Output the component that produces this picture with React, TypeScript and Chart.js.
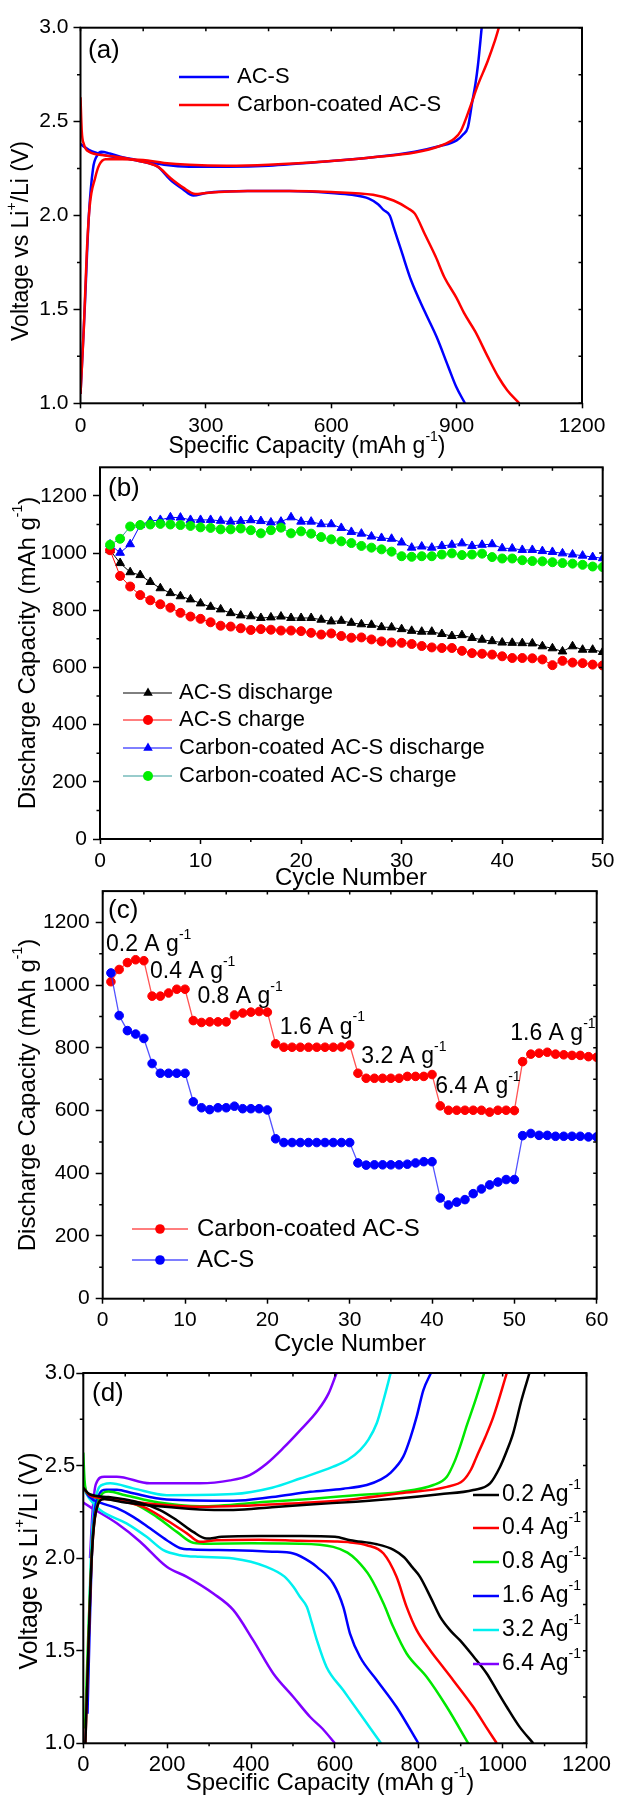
import React, { useEffect, useRef } from "react";
import { Chart, registerables } from "chart.js";

Chart.register(...registerables);

const FONT = '"Liberation Sans", Arial, Helvetica, sans-serif';
const W = 617;
const XH = 40;

type Pt = [number, number];
type Seg = { t: string; sup?: boolean };

// ---------------- Panel (a): voltage profiles ----------------
const A_X_MINOR = [150, 450, 750, 1050];
const V_Y_MINOR = [1.25, 1.75, 2.25, 2.75];
const A_ACS_DIS: Pt[] = [[0, 2.38], [20, 2.35], [60, 2.32], [120, 2.30], [160, 2.28], [185, 2.26], [215, 2.19], [245, 2.14], [270, 2.106], [300, 2.12], [400, 2.13], [500, 2.13], [600, 2.12], [650, 2.11], [690, 2.09], [712, 2.06], [725, 2.03], [740, 2.0], [749, 1.94], [768, 1.81], [791, 1.655], [824, 1.487], [852, 1.354], [880, 1.195], [899, 1.088], [920, 1.0]];
const A_ACS_CHG: Pt[] = [[0, 1.05], [10, 1.5], [20, 2.0], [30, 2.25], [40, 2.32], [50, 2.34], [70, 2.33], [100, 2.31], [150, 2.29], [200, 2.27], [260, 2.26], [350, 2.26], [450, 2.265], [600, 2.29], [700, 2.31], [800, 2.34], [860, 2.37], [900, 2.40], [915, 2.43], [927, 2.47], [937, 2.6], [945, 2.7], [951, 2.8], [960, 3.0]];
const A_CC_DIS: Pt[] = [[0, 2.63], [3, 2.45], [8, 2.38], [20, 2.34], [60, 2.32], [120, 2.30], [160, 2.28], [185, 2.26], [215, 2.20], [245, 2.15], [275, 2.115], [300, 2.12], [400, 2.13], [500, 2.13], [600, 2.125], [700, 2.11], [749, 2.08], [786, 2.035], [800, 2.01], [824, 1.90], [850, 1.78], [871, 1.67], [900, 1.56], [918, 1.48], [945, 1.38], [974, 1.25], [1000, 1.14], [1021, 1.07], [1050, 1.0]];
const A_CC_CHG: Pt[] = [[0, 1.05], [8, 1.4], [15, 1.8], [22, 2.05], [35, 2.2], [45, 2.27], [60, 2.30], [100, 2.30], [150, 2.295], [200, 2.28], [260, 2.27], [350, 2.265], [450, 2.27], [600, 2.29], [700, 2.31], [800, 2.335], [860, 2.37], [895, 2.41], [910, 2.45], [932, 2.575], [950, 2.69], [974, 2.82], [990, 2.92], [1001, 3.0]];

// ---------------- Panel (b): cycling ----------------
const B_X_MINOR = [5, 15, 25, 35, 45];
const CAP_Y_MINOR = [100, 300, 500, 700, 900, 1100];
const B_ACS_DIS = [1010, 965, 933, 923, 899, 877, 860, 849, 838, 824, 812, 803, 790, 782, 779, 773, 775, 778, 773, 773, 773, 767, 761, 763, 756, 751, 749, 741, 740, 734, 728, 725, 725, 717, 710, 713, 703, 697, 692, 687, 686, 685, 684, 674, 667, 656, 674, 662, 662, 654];
const B_ACS_CHG = [1010, 920, 883, 853, 835, 821, 809, 791, 778, 770, 758, 746, 743, 737, 731, 734, 732, 729, 729, 727, 721, 715, 719, 710, 704, 705, 698, 691, 687, 686, 682, 675, 670, 668, 668, 658, 650, 648, 645, 639, 633, 633, 632, 628, 608, 623, 617, 615, 610, 607];
const B_CC_DIS = [1030, 1001, 1031, 1098, 1112, 1116, 1125, 1124, 1116, 1116, 1116, 1113, 1110, 1112, 1115, 1112, 1107, 1110, 1125, 1110, 1110, 1101, 1101, 1088, 1074, 1068, 1058, 1053, 1050, 1037, 1019, 1023, 1019, 1025, 1029, 1034, 1025, 1029, 1031, 1017, 1016, 1011, 1011, 1007, 1004, 999, 995, 991, 986, 982];
const B_CC_CHG = [1029, 1050, 1093, 1098, 1100, 1102, 1100, 1098, 1095, 1090, 1088, 1083, 1083, 1086, 1080, 1069, 1080, 1089, 1069, 1076, 1068, 1056, 1048, 1041, 1035, 1025, 1019, 1013, 1005, 989, 987, 989, 989, 995, 999, 993, 995, 998, 986, 981, 981, 975, 972, 971, 968, 965, 963, 959, 953, 951];
const B_LABELS = ["AC-S discharge", "AC-S charge", "Carbon-coated AC-S discharge", "Carbon-coated AC-S charge"];

// ---------------- Panel (c): rate capability ----------------
const C_X_MINOR = [5, 15, 25, 35, 45, 55];
const C_CC = [1011, 1050, 1072, 1081, 1078, 965, 965, 975, 987, 987, 887, 881, 883, 883, 883, 905, 911, 914, 916, 914, 813, 802, 802, 802, 802, 802, 802, 802, 803, 809, 719, 703, 703, 703, 703, 703, 709, 709, 709, 715, 615, 601, 601, 601, 601, 601, 595, 601, 601, 600, 756, 780, 783, 786, 780, 778, 776, 776, 772, 770];
const C_ACS = [1039, 903, 855, 844, 830, 750, 719, 719, 719, 719, 628, 609, 603, 609, 609, 614, 606, 606, 606, 602, 510, 498, 498, 498, 498, 498, 498, 498, 498, 498, 433, 426, 427, 427, 427, 427, 429, 433, 437, 437, 321, 299, 308, 316, 335, 350, 363, 372, 380, 380, 520, 527, 521, 521, 518, 518, 518, 518, 516, 516];
const C_RATE_TEXT = ["0.2", "0.4", "0.8", "1.6", "3.2", "6.4", "1.6"];
const C_RATE_CYCLE = [0.4, 5.75, 11.5, 21.5, 31.4, 40.4, 49.5];
const C_RATE_CAP = [1128, 1042, 962, 866, 772, 677, 844];

// ---------------- Panel (d): rate voltage profiles ----------------
const D_X_MINOR = [100, 300, 500, 700, 900, 1100];
const D_RATES = ["0.2", "0.4", "0.8", "1.6", "3.2", "6.4"];
const D_COLORS = ["#000000", "#ff0000", "#00e800", "#0000ff", "#00f0f0", "#8000ff"];
const D_02_DIS: Pt[] = [[0, 2.38], [15, 2.345], [60, 2.33], [134, 2.30], [183, 2.26], [223, 2.205], [262, 2.142], [294, 2.106], [330, 2.115], [420, 2.12], [520, 2.12], [600, 2.115], [637, 2.097], [700, 2.075], [740, 2.045], [765, 2.005], [785, 1.95], [803, 1.899], [830, 1.78], [851, 1.683], [875, 1.61], [898, 1.557], [930, 1.47], [962, 1.377], [985, 1.29], [1010, 1.196], [1040, 1.09], [1073, 1.0]];
const D_02_CHG: Pt[] = [[5, 1.0], [12, 1.5], [20, 2.0], [30, 2.25], [50, 2.32], [100, 2.30], [180, 2.28], [278, 2.263], [358, 2.26], [450, 2.275], [541, 2.29], [650, 2.305], [755, 2.323], [850, 2.345], [930, 2.368], [970, 2.404], [994, 2.494], [1010, 2.58], [1025, 2.674], [1045, 2.854], [1064, 3.0]];
const D_04_DIS: Pt[] = [[0, 2.38], [15, 2.34], [60, 2.32], [143, 2.277], [199, 2.205], [247, 2.134], [278, 2.088], [318, 2.097], [420, 2.10], [517, 2.094], [600, 2.09], [637, 2.085], [676, 2.07], [716, 2.025], [747, 1.899], [771, 1.737], [795, 1.611], [827, 1.503], [855, 1.42], [882, 1.341], [930, 1.196], [960, 1.09], [986, 1.0]];
const D_04_CHG: Pt[] = [[5, 1.0], [12, 1.5], [20, 2.0], [30, 2.25], [50, 2.32], [100, 2.31], [180, 2.29], [278, 2.277], [400, 2.285], [541, 2.30], [650, 2.32], [755, 2.35], [867, 2.385], [906, 2.42], [925, 2.48], [938, 2.548], [958, 2.65], [978, 2.764], [1010, 3.0]];
const D_08_DIS: Pt[] = [[0, 2.57], [3, 2.42], [10, 2.35], [60, 2.32], [119, 2.296], [175, 2.223], [223, 2.142], [262, 2.083], [300, 2.078], [400, 2.08], [517, 2.078], [596, 2.061], [630, 2.03], [652, 1.989], [684, 1.899], [716, 1.755], [739, 1.629], [771, 1.485], [819, 1.358], [867, 1.196], [918, 1.0]];
const D_08_CHG: Pt[] = [[4, 1.08], [12, 1.6], [22, 2.1], [35, 2.3], [60, 2.36], [100, 2.34], [180, 2.30], [278, 2.28], [437, 2.304], [541, 2.32], [650, 2.34], [755, 2.358], [835, 2.395], [867, 2.44], [885, 2.52], [898, 2.60], [915, 2.72], [930, 2.818], [956, 3.0]];
const D_16_DIS: Pt[] = [[0, 2.44], [5, 2.37], [15, 2.33], [40, 2.30], [80, 2.27], [119, 2.223], [159, 2.161], [199, 2.097], [230, 2.055], [260, 2.047], [358, 2.043], [450, 2.035], [501, 2.025], [541, 1.98], [557, 1.953], [596, 1.863], [620, 1.737], [636, 1.593], [660, 1.466], [700, 1.341], [747, 1.196], [799, 1.0]];
const D_16_CHG: Pt[] = [[10, 1.16], [15, 1.6], [22, 2.1], [35, 2.33], [55, 2.37], [80, 2.37], [119, 2.35], [199, 2.317], [358, 2.31], [450, 2.33], [541, 2.358], [620, 2.375], [676, 2.395], [710, 2.425], [731, 2.458], [763, 2.548], [780, 2.65], [795, 2.764], [811, 2.908], [829, 3.0]];
const D_32_DIS: Pt[] = [[0, 2.38], [15, 2.32], [40, 2.26], [103, 2.188], [151, 2.115], [191, 2.043], [231, 2.016], [278, 2.007], [358, 1.998], [437, 1.953], [480, 1.90], [501, 1.845], [517, 1.79], [533, 1.737], [545, 1.65], [557, 1.557], [580, 1.412], [620, 1.286], [660, 1.16], [710, 1.0]];
const D_32_CHG: Pt[] = [[10, 1.27], [14, 1.7], [20, 2.1], [30, 2.33], [50, 2.40], [64, 2.404], [119, 2.377], [199, 2.34], [358, 2.346], [450, 2.38], [517, 2.43], [596, 2.494], [630, 2.53], [660, 2.584], [680, 2.64], [700, 2.73], [716, 2.854], [733, 3.0]];
const D_64_DIS: Pt[] = [[0, 2.30], [16, 2.277], [80, 2.188], [135, 2.09], [199, 1.953], [247, 1.899], [310, 1.809], [358, 1.719], [405, 1.557], [453, 1.377], [501, 1.25], [541, 1.142], [570, 1.08], [600, 1.0]];
const D_64_CHG: Pt[] = [[16, 2.0], [22, 2.25], [30, 2.40], [50, 2.44], [80, 2.44], [159, 2.404], [278, 2.404], [350, 2.42], [397, 2.449], [437, 2.51], [477, 2.595], [517, 2.69], [560, 2.80], [585, 2.89], [604, 3.0]];
const D_CURVES: [Pt[], Pt[]][] = [[D_02_DIS, D_02_CHG], [D_04_DIS, D_04_CHG], [D_08_DIS, D_08_CHG], [D_16_DIS, D_16_CHG], [D_32_DIS, D_32_CHG], [D_64_DIS, D_64_CHG]];

// ---------------- helpers ----------------
const sup = (t: string): Seg => ({ t, sup: true });
const GINV: Seg[] = [{ t: "Specific Capacity (mAh g" }, sup("-1"), { t: ")" }];
const DISCAP: Seg[] = [{ t: "Discharge Capacity (mAh g" }, sup("-1"), { t: ")" }];
const VOLT: Seg[] = [{ t: "Voltage vs Li" }, sup("+"), { t: "/Li (V)" }];

function segWidth(ctx: CanvasRenderingContext2D, segs: Seg[], size: number) {
  let w = 0;
  for (const s of segs) {
    ctx.font = `${s.sup ? Math.round(size * 0.6) : size}px ${FONT}`;
    w += ctx.measureText(s.t).width;
  }
  return w;
}
function drawSegs(ctx: CanvasRenderingContext2D, segs: Seg[], x: number, y: number, size: number, center: boolean) {
  const w = segWidth(ctx, segs, size);
  let cx = center ? x - w / 2 : x;
  ctx.textAlign = "left";
  ctx.textBaseline = "middle";
  for (const s of segs) {
    const fs = s.sup ? Math.round(size * 0.6) : size;
    ctx.font = `${fs}px ${FONT}`;
    ctx.fillText(s.t, cx, s.sup ? y - size * 0.42 : y);
    cx += ctx.measureText(s.t).width;
  }
}
function drawMarker(ctx: CanvasRenderingContext2D, style: string, x: number, y: number, r: number, color: string) {
  ctx.fillStyle = color;
  ctx.beginPath();
  if (style === "triangle") {
    let rad = 0;
    const R = r + 0.5;
    ctx.moveTo(x + Math.sin(rad) * R, y - Math.cos(rad) * R);
    rad += (2 * Math.PI) / 3;
    ctx.lineTo(x + Math.sin(rad) * R, y - Math.cos(rad) * R);
    rad += (2 * Math.PI) / 3;
    ctx.lineTo(x + Math.sin(rad) * R, y - Math.cos(rad) * R);
    ctx.closePath();
  } else {
    ctx.arc(x, y, r + 0.5, 0, Math.PI * 2);
  }
  ctx.fill();
}

interface LegendItem { ds: number; y: number; x1: number; x2: number; mx?: number; tx: number; text: Seg[]; size: number; lw: number }
interface Note { text: Seg[]; x: number; y: number; size: number }
interface Deco {
  top: number;
  xMinor: number[];
  yMinor: number[];
  panel: string; panelX: number; panelY: number; panelSize: number;
  xTitle: Seg[]; xTitleX: number; xTitleY: number; xTitleSize: number;
  yTitle: Seg[]; yTitleX: number; yTitleY: number; yTitleSize: number;
  legend: LegendItem[];
  notes: Note[];
}

function makeDeco(o: Deco) {
  return {
    id: "deco",
    afterDraw(chart: any) {
      const ctx: CanvasRenderingContext2D = chart.ctx;
      const a = chart.chartArea;
      const xs = chart.scales.x;
      const ys = chart.scales.y;
      const T = o.top;
      ctx.save();
      ctx.strokeStyle = "#000";
      ctx.fillStyle = "#000";
      // frame
      ctx.lineWidth = 2;
      ctx.strokeRect(a.left, a.top, a.right - a.left, a.bottom - a.top);
      // minor ticks & inward ticks
      ctx.lineWidth = 1.5;
      ctx.beginPath();
      for (const v of o.xMinor) {
        const p = xs.getPixelForValue(v);
        ctx.moveTo(p, a.bottom);
        ctx.lineTo(p, a.bottom + 3);
      }
      for (const v of o.yMinor) {
        const p = ys.getPixelForValue(v);
        ctx.moveTo(a.left, p);
        ctx.lineTo(a.left - 3.5, p);
      }
      const xAll = xs.ticks.map((t: any) => t.value).concat(o.xMinor);
      for (const v of xAll) {
        const p = xs.getPixelForValue(v);
        ctx.moveTo(p, a.top);
        ctx.lineTo(p, a.top + 3.5);
      }
      const yAll = ys.ticks.map((t: any) => t.value).concat(o.yMinor);
      for (const v of yAll) {
        const p = ys.getPixelForValue(v);
        ctx.moveTo(a.right, p);
        ctx.lineTo(a.right - 3.5, p);
      }
      ctx.stroke();
      ctx.fillStyle = "#000";
      // panel label
      drawSegs(ctx, [{ t: o.panel }], o.panelX, o.panelY - T, o.panelSize, false);
      // axis titles
      drawSegs(ctx, o.xTitle, o.xTitleX, o.xTitleY - T, o.xTitleSize, true);
      ctx.save();
      ctx.translate(o.yTitleX, o.yTitleY - T);
      ctx.rotate(-Math.PI / 2);
      ctx.fillStyle = "#000";
      drawSegs(ctx, o.yTitle, 0, 0, o.yTitleSize, true);
      ctx.restore();
      // legend
      for (const it of o.legend) {
        const d = chart.data.datasets[it.ds];
        const y = it.y - T;
        ctx.strokeStyle = d.borderColor;
        ctx.lineWidth = it.lw;
        ctx.beginPath();
        ctx.moveTo(it.x1, y);
        ctx.lineTo(it.x2, y);
        ctx.stroke();
        if (it.mx !== undefined) drawMarker(ctx, d.pointStyle, it.mx, y, d.pointRadius, d.pointBackgroundColor);
        ctx.fillStyle = "#000";
        drawSegs(ctx, it.text, it.tx, y, it.size, false);
      }
      // annotations (data coordinates)
      for (const n of o.notes) {
        ctx.fillStyle = "#000";
        drawSegs(ctx, n.text, xs.getPixelForValue(n.x), ys.getPixelForValue(n.y), n.size, false);
      }
      ctx.restore();
    },
  };
}

interface AxisSpec {
  L: number; xMin: number; xMax: number; xStep: number;
  yMin: number; yMax: number; yStep: number; yKeep: number;
  yFmt: (v: number) => string; tickSize: number; xPad: number; yPad: number;
}
function makeScales(p: AxisSpec) {
  const font = { family: FONT, size: p.tickSize };
  return {
    x: {
      type: "linear", position: "bottom", min: p.xMin, max: p.xMax,
      ticks: { stepSize: p.xStep, autoSkip: false, maxRotation: 0, minRotation: 0, padding: p.xPad, color: "#000", font, callback: (v: any) => String(v) },
      grid: { display: true, drawOnChartArea: false, drawTicks: true, tickLength: 5, tickWidth: 1.5, tickColor: "#000" },
      border: { display: false },
      afterFit: (s: any) => { s.height = XH; s.paddingLeft = 0; s.paddingRight = 0; },
    },
    y: {
      type: "linear", position: "left", min: p.yMin, max: p.yMax,
      ticks: { stepSize: p.yStep, autoSkip: false, padding: p.yPad, color: "#000", font, callback: (v: any) => p.yFmt(Number(v)) },
      grid: { display: true, drawOnChartArea: false, drawTicks: true, tickLength: 7, tickWidth: 1.5, tickColor: "#000" },
      border: { display: false },
      afterBuildTicks: (s: any) => { s.ticks = s.ticks.filter((t: any) => t.value <= p.yKeep + 1e-9); },
      afterFit: (s: any) => { s.width = p.L; s.paddingTop = 0; s.paddingBottom = 0; },
    },
  };
}
function baseOptions(top: number, H: number, R: number, Tp: number, B: number, scales: any) {
  return {
    responsive: false,
    maintainAspectRatio: false,
    animation: false,
    devicePixelRatio: 1,
    events: [],
    layout: { padding: { left: 0, right: W - R, top: Tp - top, bottom: H - (B - top) - XH } },
    plugins: { legend: { display: false }, tooltip: { enabled: false }, title: { display: false } },
    scales,
  };
}
const toXY = (pts: Pt[]) => pts.map(([x, y]) => ({ x, y }));
const byCycle = (vals: number[]) => vals.map((y, i) => ({ x: i + 1, y }));
function curve(pts: Pt[], color: string, order: number) {
  return { data: toXY(pts), showLine: true, borderColor: color, backgroundColor: color, borderWidth: 2.5, pointRadius: 0, cubicInterpolationMode: "monotone", fill: false, order };
}

// ---------------- chart configs ----------------
function cfgA() {
  const top = 0, H = 470;
  return {
    type: "scatter",
    data: {
      datasets: [
        curve(A_ACS_DIS, "#0000ff", 2), curve(A_ACS_CHG, "#0000ff", 2),
        curve(A_CC_DIS, "#ff0000", 1), curve(A_CC_CHG, "#ff0000", 1),
      ],
    },
    options: baseOptions(top, H, 582, 27.7, 403.3, makeScales({ L: 80.5, xMin: 0, xMax: 1200, xStep: 300, yMin: 1, yMax: 3, yStep: 0.5, yKeep: 3, yFmt: (v) => v.toFixed(1), tickSize: 21, xPad: 5, yPad: 5 })),
    plugins: [makeDeco({
      top, xMinor: A_X_MINOR, yMinor: V_Y_MINOR,
      panel: "(a)", panelX: 88, panelY: 51, panelSize: 26,
      xTitle: GINV, xTitleX: 307, xTitleY: 447, xTitleSize: 23,
      yTitle: VOLT, yTitleX: 22, yTitleY: 241, yTitleSize: 23,
      legend: [
        { ds: 0, y: 77, x1: 179, x2: 229, tx: 237, text: [{ t: "AC-S" }], size: 22, lw: 2.5 },
        { ds: 2, y: 105, x1: 179, x2: 229, tx: 237, text: [{ t: "Carbon-coated AC-S" }], size: 22, lw: 2.5 },
      ],
      notes: [],
    })],
  };
}

function markers(vals: number[], color: string, lineColor: string, style: string, r: number, order: number, lw: number) {
  return {
    data: byCycle(vals), showLine: true, borderColor: lineColor, borderWidth: lw,
    pointStyle: style, pointRadius: r, pointBackgroundColor: color, pointBorderColor: color, pointBorderWidth: 1,
    backgroundColor: color, order, tension: 0,
  };
}

function cfgB() {
  const top = 440, H = 470;
  const dsets = [
    markers(B_ACS_DIS, "#000000", "#000000", "triangle", 5, 4, 1),
    markers(B_ACS_CHG, "#ff0000", "#ff0000", "circle", 4.5, 3, 1),
    markers(B_CC_DIS, "#0000ff", "#0000ff", "triangle", 5, 2, 1),
    markers(B_CC_CHG, "#00ee00", "#339999", "circle", 4.5, 1, 1),
  ];
  const rows = [693, 720, 748, 776];
  return {
    type: "scatter",
    data: { datasets: dsets },
    options: baseOptions(top, H, 602.7, 467.3, 839, makeScales({ L: 100, xMin: 0, xMax: 50, xStep: 10, yMin: 0, yMax: 1300, yStep: 200, yKeep: 1200, yFmt: (v) => String(v), tickSize: 21, xPad: 5, yPad: 6 })),
    plugins: [makeDeco({
      top, xMinor: B_X_MINOR, yMinor: CAP_Y_MINOR,
      panel: "(b)", panelX: 108, panelY: 489, panelSize: 26,
      xTitle: [{ t: "Cycle Number" }], xTitleX: 351, xTitleY: 878, xTitleSize: 24,
      yTitle: DISCAP, yTitleX: 28, yTitleY: 653, yTitleSize: 24,
      legend: B_LABELS.map((lab, i) => ({ ds: i, y: rows[i], x1: 123, x2: 172, mx: 148, tx: 179, text: [{ t: lab }], size: 22, lw: 1 })),
      notes: [],
    })],
  };
}

function cfgC() {
  const top = 860, H = 500;
  const dsets = [
    markers(C_CC, "#ff0000", "rgba(255,40,40,0.8)", "circle", 4.3, 2, 1.3),
    markers(C_ACS, "#0000ff", "rgba(40,40,255,0.8)", "circle", 4.3, 1, 1.3),
  ];
  return {
    type: "scatter",
    data: { datasets: dsets },
    options: baseOptions(top, H, 596.7, 891.1, 1298.7, makeScales({ L: 102.7, xMin: 0, xMax: 60, xStep: 10, yMin: 0, yMax: 1300, yStep: 200, yKeep: 1200, yFmt: (v) => String(v), tickSize: 21, xPad: 4, yPad: 6 })),
    plugins: [makeDeco({
      top, xMinor: C_X_MINOR, yMinor: CAP_Y_MINOR,
      panel: "(c)", panelX: 108, panelY: 911, panelSize: 26,
      xTitle: [{ t: "Cycle Number" }], xTitleX: 350, xTitleY: 1344, xTitleSize: 24,
      yTitle: DISCAP, yTitleX: 28, yTitleY: 1095, yTitleSize: 24,
      legend: [
        { ds: 0, y: 1229, x1: 132, x2: 188, mx: 160, tx: 197, text: [{ t: "Carbon-coated AC-S" }], size: 24, lw: 1.5 },
        { ds: 1, y: 1260, x1: 132, x2: 188, mx: 160, tx: 197, text: [{ t: "AC-S" }], size: 24, lw: 1.5 },
      ],
      notes: C_RATE_TEXT.map((t, i) => ({ text: [{ t: `${t} A g` }, sup("-1")], x: C_RATE_CYCLE[i], y: C_RATE_CAP[i], size: 23 })),
    })],
  };
}

function cfgD() {
  const top = 1330, H = 468;
  const dsets: any[] = [];
  D_CURVES.forEach(([dis, chg], i) => {
    dsets.push(curve(dis, D_COLORS[i], i + 1));
    dsets.push(curve(chg, D_COLORS[i], i + 1));
  });
  const rows = [1495, 1528, 1562, 1596, 1630, 1664];
  return {
    type: "scatter",
    data: { datasets: dsets },
    options: baseOptions(top, H, 586.5, 1373, 1743.3, makeScales({ L: 83.3, xMin: 0, xMax: 1200, xStep: 200, yMin: 1, yMax: 3, yStep: 0.5, yKeep: 3, yFmt: (v) => v.toFixed(1), tickSize: 22, xPad: 3, yPad: 1 })),
    plugins: [makeDeco({
      top, xMinor: D_X_MINOR, yMinor: V_Y_MINOR,
      panel: "(d)", panelX: 92, panelY: 1394, panelSize: 26,
      xTitle: GINV, xTitleX: 330, xTitleY: 1783, xTitleSize: 24,
      yTitle: VOLT, yTitleX: 30, yTitleY: 1561, yTitleSize: 25,
      legend: D_RATES.map((r, i) => ({ ds: i * 2, y: rows[i], x1: 473, x2: 499, tx: 502, text: [{ t: `${r} Ag` }, sup("-1")], size: 23, lw: 2.5 })),
      notes: [],
    })],
  };
}

function ChartCanvas({ top, height, make }: { top: number; height: number; make: () => any }) {
  const ref = useRef<HTMLCanvasElement | null>(null);
  useEffect(() => {
    const c = new Chart(ref.current as HTMLCanvasElement, make());
    return () => c.destroy();
  }, []);
  return <canvas ref={ref} width={W} height={height} style={{ position: "absolute", left: 0, top, width: W, height }} />;
}

export default function App() {
  return (
    <div style={{ position: "absolute", left: 0, top: 0, width: W, height: 1798, background: "#fff", overflow: "hidden" }}>
      <ChartCanvas top={0} height={470} make={cfgA} />
      <ChartCanvas top={440} height={470} make={cfgB} />
      <ChartCanvas top={860} height={500} make={cfgC} />
      <ChartCanvas top={1330} height={468} make={cfgD} />
    </div>
  );
}
